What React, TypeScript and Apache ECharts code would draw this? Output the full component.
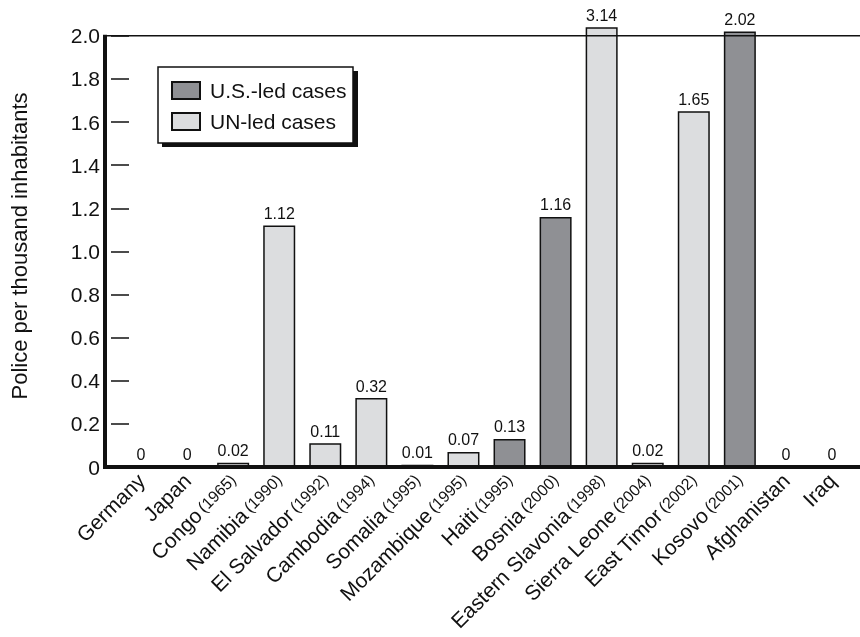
import React, { useEffect, useRef } from "react";
import * as echarts from "echarts";

const CATEGORIES = [
  "Germany", "Japan", "Congo", "Namibia", "El Salvador", "Cambodia", "Somalia",
  "Mozambique", "Haiti", "Bosnia", "Eastern Slavonia", "Sierra Leone",
  "East Timor", "Kosovo", "Afghanistan", "Iraq",
];
const YEARS = ["", "", "1965", "1990", "1992", "1994", "1995", "1995", "1995", "2000", "1998", "2004", "2002", "2001", "", ""];
const VALUES = [0, 0, 0.02, 1.12, 0.11, 0.32, 0.01, 0.07, 0.13, 1.16, 3.14, 0.02, 1.65, 2.02, 0, 0];
const LEAD = ["US", "US", "UN", "UN", "UN", "UN", "US", "UN", "US", "US", "UN", "UN", "UN", "US", "US", "US"];
const Y_TICKS = [0, 0.2, 0.4, 0.6, 0.8, 1.0, 1.2, 1.4, 1.6, 1.8, 2.0];
const AXIS_TOP = 2.0;
const CLIP_AT = 2.04;
const SERIES_NAMES = { US: "U.S.-led cases", UN: "UN-led cases" };

const FONT = "'Liberation Sans', Arial, Helvetica, sans-serif";
const INK = "#111";

export default function App() {
  const ref = useRef<HTMLDivElement>(null);
  useEffect(() => {
    if (!ref.current) return;
    const chart = echarts.init(ref.current, null, { renderer: "svg" });
    const shown = VALUES.map((v) => Math.min(v, CLIP_AT));
    const seriesFor = (lead: string, color: string) => ({
      type: "bar",
      name: (SERIES_NAMES as any)[lead],
      data: shown.map((v, i) => (LEAD[i] === lead ? v : "-")),
      barWidth: 32,
      barGap: "-100%",
      itemStyle: { color, borderColor: INK, borderWidth: 1.5 },
      label: {
        show: true,
        position: "top",
        distance: 4,
        fontFamily: FONT,
        fontSize: 16,
        color: INK,
        formatter: (p: any) => String(VALUES[p.dataIndex]),
      },
    });
    chart.setOption({
      animation: false,
      textStyle: { fontFamily: FONT, color: INK },
      grid: { left: 112, right: 5, top: 25, bottom: 170, containLabel: false },
      legend: {
        orient: "vertical",
        left: 171,
        top: 80,
        padding: 0,
        icon: "rect",
        itemWidth: 28,
        itemHeight: 17,
        itemGap: 10,
        z: 20,
        data: [SERIES_NAMES.US, SERIES_NAMES.UN],
        textStyle: { fontFamily: FONT, fontSize: 21, color: INK, lineHeight: 20, padding: [0, 0, 0, 5] },
      },
      xAxis: {
        type: "category",
        data: CATEGORIES,
        axisLine: { show: false },
        axisTick: { show: false },
        axisLabel: {
          interval: 0,
          rotate: 45,
          margin: 10,
          color: INK,
          formatter: (name: string) => {
            const i = CATEGORIES.indexOf(name);
            return YEARS[i] ? `{n|${name}} {y|(${YEARS[i]})}` : `{n|${name}}`;
          },
          rich: {
            n: { fontFamily: FONT, fontSize: 21, color: INK },
            y: { fontFamily: FONT, fontSize: 16, color: INK },
          },
        },
      },
      yAxis: {
        type: "value",
        min: 0,
        max: 2.05,
        interval: 0.2,
        offset: 7,
        name: "Police per thousand inhabitants",
        nameLocation: "middle",
        nameGap: 81,
        nameTextStyle: { fontFamily: FONT, fontSize: 22, color: INK },
        axisLine: { show: false },
        axisTick: { show: true, inside: true, length: 18, customValues: Y_TICKS, lineStyle: { color: INK, width: 1.5 } },
        axisLabel: {
          customValues: Y_TICKS,
          margin: 11,
          fontFamily: FONT,
          fontSize: 21,
          color: INK,
          formatter: (v: number) => (v === 0 ? "0" : v.toFixed(1)),
        },
        splitLine: { show: false },
      },
      series: [seriesFor("US", "#8f9094"), seriesFor("UN", "#dcdddf")],
    });

    const yZero = chart.convertToPixel({ yAxisIndex: 0 }, 0) as number;
    const yTop = chart.convertToPixel({ yAxisIndex: 0 }, AXIS_TOP) as number;
    const axisX = 105;
    chart.setOption({
      graphic: [
        { type: "line", z: 30, shape: { x1: axisX, y1: yTop, x2: 860, y2: yTop }, style: { stroke: INK, lineWidth: 1.5 } },
        { type: "line", z: 30, shape: { x1: axisX - 2, y1: yZero, x2: 860, y2: yZero }, style: { stroke: INK, lineWidth: 4 } },
        { type: "line", z: 30, shape: { x1: axisX, y1: yTop - 1, x2: axisX, y2: yZero + 2 }, style: { stroke: INK, lineWidth: 4 } },
        { type: "rect", z: 15, shape: { x: 162, y: 71, width: 196, height: 76 }, style: { fill: INK } },
        { type: "rect", z: 16, shape: { x: 158, y: 67, width: 195, height: 76 }, style: { fill: "#fff", stroke: INK, lineWidth: 1.5 } },
      ],
    });
    return () => chart.dispose();
  }, []);
  return <div ref={ref} style={{ position: "fixed", left: 0, top: 0, width: 860, height: 637 }} />;
}
